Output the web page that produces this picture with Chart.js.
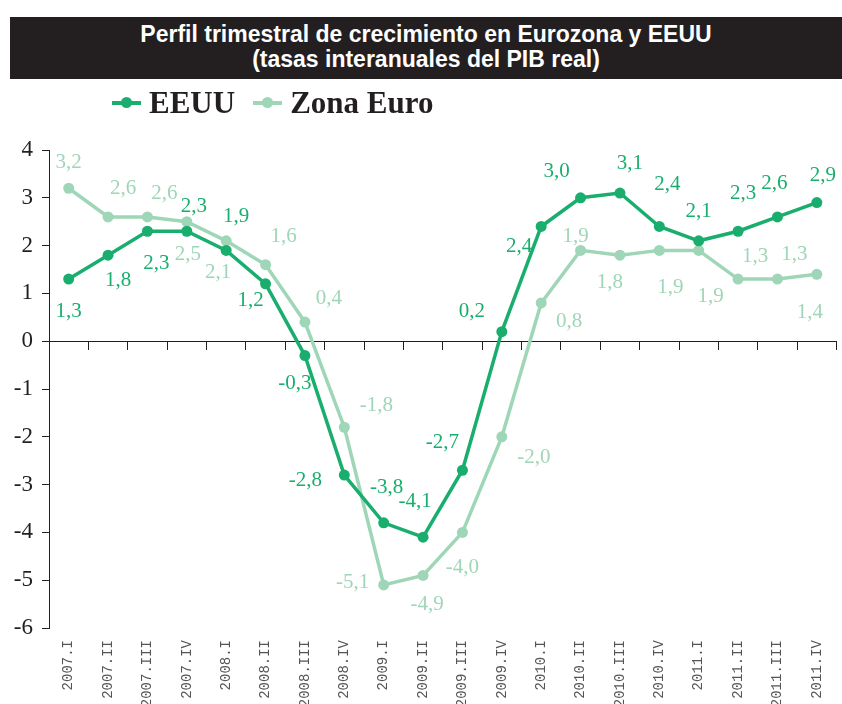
<!DOCTYPE html>
<html>
<head>
<meta charset="utf-8">
<script src="https://cdn.jsdelivr.net/npm/chart.js@4.4.1/dist/chart.umd.min.js"></script>
<style>
  body { margin:0; background:#fff; }
  #wrap { position:relative; width:842px; height:704px; }
  #titulo {
    position:absolute; left:10px; top:17px; width:832px; height:62px;
    background:#231f20; color:#fff; text-align:center;
    font-family:"Liberation Sans", Arial, sans-serif; font-weight:bold;
    font-size:23px; line-height:25px; padding-top:5px; box-sizing:border-box;
  }
  #leyenda {
    position:absolute; left:112px; top:86px; height:34px;
    font-family:"Liberation Serif", "DejaVu Serif", serif; font-weight:bold; font-size:31px;
    color:#231f20; display:flex; align-items:center;
  }
  .item { display:flex; align-items:center; margin-right:18px; }
  .linea { position:relative; width:29px; height:4px; margin-right:8px; }
  .linea span { position:absolute; left:9px; top:-4px; width:11px; height:11px; border-radius:50%; }
  canvas { position:absolute; left:0; top:0; }
</style>
</head>
<body>
<div id="wrap">
  <canvas id="myChart" width="842" height="704"></canvas>
  <div id="titulo">Perfil trimestral de crecimiento en Eurozona y EEUU<br>(tasas interanuales del PIB real)</div>
  <div id="leyenda"></div>
</div>
<script>
// datos
var trimestres = ["2007.I","2007.II","2007.III","2007.IV","2008.I","2008.II","2008.III","2008.IV",
  "2009.I","2009.II","2009.III","2009.IV","2010.I","2010.II","2010.III","2010.IV",
  "2011.I","2011.II","2011.III","2011.IV"];
var eeuu = [1.3,1.8,2.3,2.3,1.9,1.2,-0.3,-2.8,-3.8,-4.1,-2.7,0.2,2.4,3.0,3.1,2.4,2.1,2.3,2.6,2.9];
var zonaEuro = [3.2,2.6,2.6,2.5,2.1,1.6,0.4,-1.8,-5.1,-4.9,-4.0,-2.0,0.8,1.9,1.8,1.9,1.9,1.3,1.3,1.4];
var yMin = -6, yMax = 4;

var colorEEUU = '#1aae6e';
var colorEuro = '#9fd6b7';

// desplazamiento de las etiquetas respecto al punto (px)
var offEEUU = [[0,32],[10,25],[9,32],[7,-25],[10,-34],[-15,17],[-10,28],[-39,5],[3,-35],[-8,-36],
  [-20,-28],[-30,-20],[-22,20],[-24,-26],[10,-30],[8,-42],[0,-29],[5,-38],[-3,-33],[6,-27]];
var offEuro = [[0,-26],[15,-28],[17,-23],[1,33],[-8,32],[18,-28],[24,-24],[32,-22],[-31,-2],[4,29],
  [0,35],[32,21],[28,19],[-5,-14],[-10,27],[11,37],[12,46],[17,-23],[17,-25],[-7,38]];

// leyenda
var series = [["EEUU", colorEEUU], ["Zona Euro", colorEuro]];
var ley = document.getElementById('leyenda');
series.forEach(function(s){
  var it = document.createElement('div'); it.className = 'item';
  it.innerHTML = '<div class="linea" style="background:'+s[1]+'"><span style="background:'+s[1]+'"></span></div>' + s[0];
  ley.appendChild(it);
});

var etiquetas = {
  id: 'etiquetas',
  afterDatasetsDraw: function(chart){
    var ctx = chart.ctx;
    ctx.save();
    ctx.font = '21px "Liberation Serif", "DejaVu Serif", serif';
    ctx.textAlign = 'center';
    ctx.textBaseline = 'middle';
    chart.data.datasets.forEach(function(ds, d){
      var meta = chart.getDatasetMeta(d);
      var offs = d === 0 ? offEEUU : offEuro;
      ctx.fillStyle = ds.borderColor;
      meta.data.forEach(function(p, i){
        var txt = ds.data[i].toFixed(1).replace('.', ',');
        ctx.fillText(txt, p.x + offs[i][0], p.y + offs[i][1]);
      });
    });
    ctx.restore();
  }
};

var ctx = document.getElementById('myChart').getContext('2d');
var chart = new Chart(ctx, {
  type: 'line',
  data: {
    labels: trimestres,
    datasets: [{
      label: "EEUU",
      data: eeuu,
      borderColor: colorEEUU,
      backgroundColor: colorEEUU,
      borderWidth: 3.5,
      pointRadius: 5.5,
      pointBorderWidth: 0,
      fill: false,
      tension: 0
    }, {
      label: "Zona Euro",
      data: zonaEuro,
      borderColor: colorEuro,
      backgroundColor: colorEuro,
      borderWidth: 3.5,
      pointRadius: 5.5,
      pointBorderWidth: 0,
      fill: false,
      tension: 0
    }]
  },
  options: {
    responsive: false,
    animation: false,
    layout: { padding: { top: 150, right: 1, left: 0, bottom: 0 } },
    plugins: { legend: { display: false }, tooltip: { enabled: false } },
    scales: {
      x: {
        type: 'category',
        position: { y: 0 },
        offset: true,
        grid: { drawOnChartArea: false, drawTicks: true, tickLength: 8, color: '#231f20', offset: true },
        border: { color: '#231f20', width: 1 },
        ticks: { display: false }
      },
      x2: {
        type: 'category',
        labels: trimestres,
        position: 'bottom',
        offset: true,
        grid: { display: false },
        border: { display: false },
        ticks: {
          autoSkip: false, minRotation: 90, maxRotation: 90, padding: 4,
          color: '#555', font: { family: '"Liberation Mono", monospace', size: 14 }
        },
        afterFit: function(s){ s.height = 76; }
      },
      y: {
        min: yMin, max: yMax,
        grid: { drawOnChartArea: false, drawTicks: true, tickLength: 7, color: '#231f20' },
        border: { color: '#231f20', width: 1 },
        ticks: {
          stepSize: 1, padding: 9, color: '#231f20',
          font: { family: '"Liberation Serif", serif', size: 23 }
        },
        afterFit: function(s){ s.width = 49; }
      }
    }
  },
  plugins: [etiquetas]
});
</script>
</body>
</html>
